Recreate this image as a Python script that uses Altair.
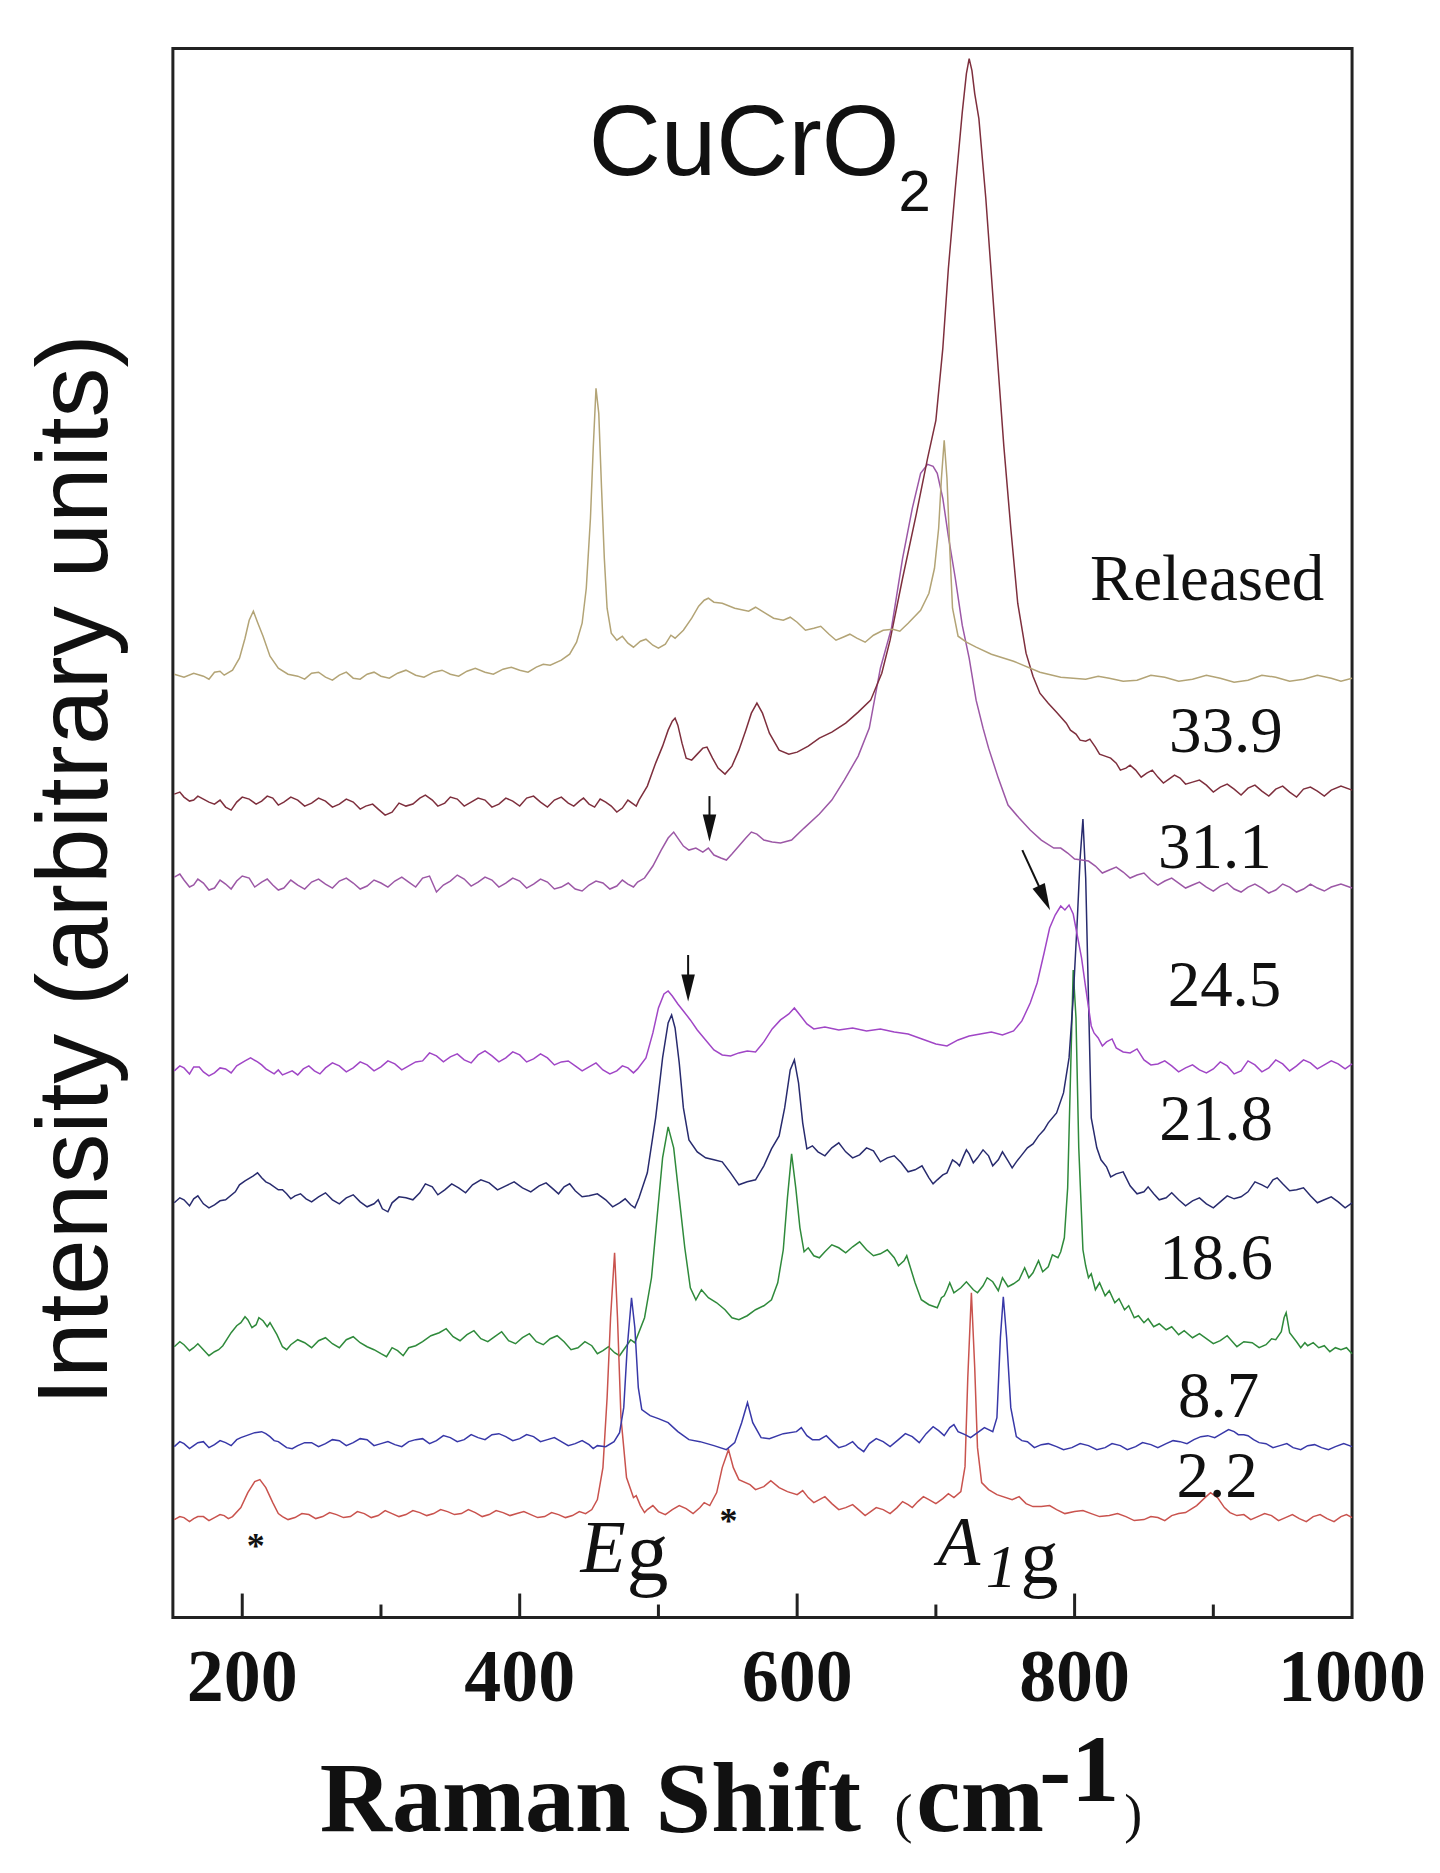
import altair as alt
import pandas as pd

# ---------------- data ----------------
SERIES = ["Released", "33.9", "31.1", "24.5", "21.8", "18.6", "8.7", "2.2"]
COLORS = ["#b3a476", "#7e2f3d", "#9c58a6", "#a046c6", "#282b6e", "#2f8a3b", "#3838a8", "#c9534e"]

RELEASED_X = [151,158,165,172,180,187,193,198,202,205,208,211,215,220,226,233,240,250,260,270,280,290,300,312,325,338,350,362,375,388,400,412,422,430,436,441,445,448,451,453,455,457,459,461,463,466,470,478,487,496,505,512,518,524,529,533,536,540,546,555,565,577,590,600,612,623,633,643,655,669,680,689,695,699,702,704,706,708,710,712,716,722,729,740,756,775,790,808,825,845,865,885,905,925,945,965,985,1000]
RELEASED_Y = [944,941,945,942,946,943,948,960,980,998,1007,996,982,962,950,944,942,945,941,943,940,944,942,945,943,946,944,947,946,949,948,951,953,958,964,976,995,1030,1100,1170,1230,1205,1130,1060,1010,985,978,975,977,973,974,980,988,1000,1012,1018,1020,1016,1015,1010,1007,1005,998,996,990,984,981,980,983,989,995,1008,1025,1050,1090,1140,1178,1140,1070,1010,982,976,971,964,957,946,941,939,940,938,941,939,940,938,941,939,940,940]
RELEASED_NX = [176,184,245,255,265,275,285,295,306,318,331,344,356,368,381,394,406,417,474,482,491,500,509,570,583,595,606,617,628,638,649,662,674,817,835,855,875,895,915,935,955,975,992]
RELEASED_NY = [939,947,939,946,938,946,939,946,940,948,941,948,942,950,944,951,946,954,982,971,979,970,983,1011,1000,1001,988,992,978,984,976,988,987,942,937,943,937,943,936,943,937,943,937]

P339_X = [151,158,165,172,180,188,196,205,214,222,230,240,250,260,270,280,289,298,308,318,328,337,346,355,365,375,385,395,405,415,425,435,443,450,458,466,474,481,486,492,498,503,507,510,512,514,517,520,524,528,532,535,539,543,548,553,558,563,567,571,575,580,587,594,600,608,616,625,635,644,653,661,667,676,686,694,700,705,709,714,719,722,724,726,728,731,736,742,749,754,759,765,770,775,781,787,794,801,808,815,822,830,837,844,852,860,868,876,885,895,905,915,925,935,945,955,965,975,985,1000]
P339_Y = [824,821,818,819,814,811,816,819,817,820,816,818,815,817,814,816,812,809,806,812,820,818,815,819,816,818,814,817,820,816,818,815,817,814,819,812,810,815,818,832,855,872,888,897,900,893,875,860,858,864,870,871,860,850,844,852,868,888,905,915,905,885,868,864,866,872,880,886,895,906,918,945,978,1040,1105,1160,1198,1270,1350,1430,1506,1545,1560,1548,1525,1500,1420,1305,1172,1090,1015,965,942,925,915,906,895,884,877,871,862,855,850,848,845,841,839,840,836,833,831,829,830,827,829,826,829,827,828,828]
P339_NX = [155,162,168,176,184,192,200,210,218,226,235,245,255,265,275,285,294,303,313,323,332,341,350,360,370,380,390,400,410,420,430,439,446,454,462,470,478,484,797,804,811,818,826,833,840,848,856,864,872,880,890,900,910,920,930,940,950,960,970,980,992]
P339_NY = [826,817,822,816,818,808,821,814,822,813,821,812,820,811,819,809,814,803,815,814,823,812,821,812,820,811,820,812,822,811,821,812,820,811,816,806,818,812,888,878,879,864,860,848,853,841,848,835,843,834,838,826,834,823,833,822,832,821,831,822,832]

P311_X = [151,158,165,172,180,188,196,205,214,222,230,240,250,260,270,280,290,300,310,320,330,340,350,360,370,380,390,400,410,420,430,440,450,460,470,478,485,490,496,502,507,511,514,518,522,527,532,536,540,545,549,553,558,563,567,571,576,582,588,596,605,616,625,634,644,652,660,668,676,683,689,694,698,701,705,709,714,719,724,729,734,738,745,752,760,768,776,785,795,805,815,825,835,845,855,865,875,885,895,905,915,925,935,945,955,965,975,985,1000]
P311_Y = [741,738,733,735,730,734,737,740,736,733,730,733,736,734,737,735,732,735,737,736,740,726,737,739,736,738,735,737,734,736,731,729,733,735,732,734,736,740,752,768,780,786,780,772,768,770,766,770,763,760,758,764,772,780,786,784,778,776,775,778,790,804,818,838,862,890,950,990,1060,1110,1145,1154,1152,1145,1120,1082,1040,993,960,918,890,870,840,813,800,788,778,770,765,758,752,748,746,743,738,737,735,733,731,732,729,731,730,728,731,729,730,731,730]
P311_NX = [155,162,168,176,184,192,200,209,218,226,235,245,255,265,275,285,295,305,315,325,335,345,355,365,375,385,395,405,415,425,435,445,455,465,474,482,790,800,810,820,830,840,850,860,870,880,890,900,910,920,930,940,950,960,970,980,992]
P311_NY = [744,731,739,728,738,729,742,731,739,728,738,729,739,730,740,729,738,731,741,731,742,733,743,732,741,731,740,730,739,729,735,727,737,729,738,731,770,759,757,745,751,740,745,733,740,730,736,727,735,726,734,725,734,726,734,727,734]

P245_X = [151,158,165,172,180,188,196,202,206,211,217,223,229,236,244,252,260,270,280,290,300,310,320,330,340,350,360,370,380,390,400,410,420,430,440,450,460,470,478,485,491,496,500,504,507,510,514,518,523,528,534,540,546,552,558,564,570,576,582,588,594,598,602,607,612,620,630,640,650,660,670,680,690,700,708,716,724,732,740,748,756,762,768,773,778,782,786,790,793,796,799,802,805,808,812,817,823,830,840,850,860,870,880,890,900,910,920,930,940,950,960,970,980,990,1000]
P245_Y = [547,550,551,546,545,549,552,557,560,556,549,544,543,547,549,547,550,552,550,553,551,554,552,557,562,561,558,563,562,560,563,559,560,556,552,551,548,547,550,549,560,585,610,624,627,622,614,607,598,588,578,568,563,562,565,567,566,576,589,598,604,610,603,594,589,591,588,590,587,589,586,584,579,574,572,578,582,584,586,583,587,597,615,635,665,690,703,712,708,713,704,682,660,630,592,580,576,570,565,558,554,552,550,548,549,552,547,553,550,554,552,555,553,554,554]
P245_NX = [155,162,169,176,184,192,214,226,240,248,256,265,275,285,295,305,315,325,335,345,355,365,375,385,395,405,415,425,435,445,455,465,474,482,814,820,827,835,845,855,865,875,885,895,905,915,925,935,945,955,965,975,985,995]
P245_NY = [552,544,551,542,550,545,553,548,543,552,544,555,546,556,547,557,548,556,565,556,564,555,567,556,566,556,564,553,557,547,555,544,552,545,585,572,579,566,569,553,557,546,553,545,556,544,557,546,558,547,558,549,557,549]

P218_X = [151,158,165,172,180,188,195,202,208,214,220,226,232,238,246,255,265,275,285,295,301,308,318,328,337,346,356,366,378,390,402,414,424,432,440,450,462,472,480,486,492,498,503,507,509.5,512,515,518,522,528,534,540,546,552,558,564,570,576,581.5,587,591,595,598,601,604,607,615,625,635,645,655,665,675,685,695,701,708,715,720,724,730,738,745,752,758,766,774,781,787,792,796,799,802,804,806,808,810,812,816,823,830,840,850,857,866,875,885,895,905,915,925,935,943,950,960,970,980,990,1000]
P218_Y = [415,418,419,414,413,418,426,437,442,440,434,428,424,422,419,421,418,420,416,414,409,415,420,425,431,428,430,433,435,432,430,432,429,431,427,422,418,415,413,420,445,500,560,595,603,590,555,510,478,466,460,458,456,445,433,436,438,452,469,482,510,548,558,535,495,469,466,470,466,463,467,460,455,448,440,438,445,455,462,464,460,462,458,457,456,470,482,495,505,525,560,620,700,760,799,740,620,500,470,451,444,432,426,424,420,418,417,414,416,419,426,433,438,434,428,422,418,416,415]
P218_NX = [155,162,168,176,184,198,211,217,229,235,242,250,260,270,280,290,298,305,313,323,332,341,351,361,372,384,396,408,419,428,436,445,456,467,476,483,611,620,630,640,650,660,670,680,690,698,705,712,717,722,727,734,741,748,755,762,770,778,819,826,835,845,853,861,870,880,890,900,910,920,930,939,946,955,965,975,985,995]
P218_NY = [420,412,422,410,417,433,445,436,428,419,424,416,425,414,423,411,418,406,421,418,434,423,434,425,438,428,436,426,435,424,434,421,424,411,419,410,472,462,475,460,470,456,462,446,452,434,443,458,452,468,455,468,452,466,450,463,474,488,458,441,446,424,431,418,425,412,420,410,422,421,436,430,440,427,430,415,421,410]

P186_X = [151,158,165,172,180,186,192,199,204,210,215,220,225,229,235,245,255,265,275,285,295,304,312,320,330,342,352,362,372,382,392,402,412,422,432,442,452,460,468.4,476,483,490,495,499,503,507,511,515,519,523,527,531,536,542,548,553,558,564,570,576,581.5,586,590,593,596,599,602,605,612,620,630,640,650,660,670,677,681,685,689.5,695,701,706,710,718,727,734,741,752,760,770,781,788,792.6,795,797,799,801,803,806,810,815,822,829,836,843,850,857,866,875,885,895,905,917,928,938,945,951,952.5,955,960,968,976,984,992,1000]
P186_Y = [271,273,270,268,266,272,285,295,298,293,297,295,283,271,273,275,277,274,278,275,268,261,267,270,276,285,281,283,279,281,277,280,276,279,276,270,272,267,265,270,275,300,340,400,460,491,470,420,370,330,318,328,320,315,308,300,298,302,308,312,318,335,368,420,464,430,390,366,362,366,370,371,368,364,360,357,353,335,318,313,310,322,335,330,328,332,336,331,338,345,351,360,380,430,540,648,600,470,368,340,328,322,315,308,300,295,291,288,283,280,279,277,271,275,273,278,300,305,285,276,272,270,266,268,264]
P186_NX = [155,162,168,176,183,196,202,207,212,218,232,240,250,260,270,280,290,300,308,316,325,336,347,357,367,377,387,397,407,417,427,437,447,456,464,472,480,608,616,625,635,645,655,665,673,679,704,708,713,722,730,737,745,748,756,764,767,774,777,784,790,808,812,818,825,832,839,846,853,861,870,879,890,900,910,922,933,942,949,963,966,972,980,988,996]
P186_NY = [276,267,274,262,268,292,301,290,300,291,268,278,270,280,270,281,271,264,270,262,272,282,289,277,287,276,286,274,284,273,282,268,276,264,271,262,278,370,360,373,365,376,362,368,352,362,320,328,325,336,325,340,327,340,334,350,340,357,346,363,366,352,344,335,327,319,312,302,299,294,291,287,284,274,282,276,270,279,286,270,275,275,272,270,270]

P87_X = [151,158,165,172,180,188,196,203,209,214,220,226,232,240,250,260,270,280,290,300,310,320,330,340,350,360,370,380,390,400,410,420,430,440,450,456,462,468,472,475,477.5,480.6,483,485.5,488,494,500,507,514,522,530,540,549,555,560,564.2,568,574,580,590,599.5,607,616,626,635,644,652,662,673,683,693,702,710,716,721,730,741,744,746.5,748.6,751,754,758,766,776,787,798,810,822,833,844,855,866,876,886,896,906,915,922,929,938,948,957.5,968,978,988,1000]
P87_Y = [171,174,172,176,173,175,178,182,185,186,181,176,170,172,175,174,177,175,178,174,173,176,179,177,180,178,180,183,181,179,181,178,176,174,173,172,171,176,185,210,270,320,290,230,208,202,199,195,186,178,176,172,168,175,195,215,195,180,179,184,186,182,178,175,172,170,174,176,178,181,184,187,190,186,183,185,186,200,280,321,280,210,181,176,173,171,170,172,170,172,171,173,174,176,178,182,184,186,183,178,174,172,170,172,170,171,171]
P87_NX = [155,162,168,176,184,192,199,217,223,229,236,245,255,265,275,285,295,305,315,325,335,345,355,365,375,385,395,405,415,425,435,445,453,603,611,621,630,640,648,657,667,678,688,698,706,713,725,735,762,771,781,792,804,816,827,838,849,860,871,881,891,901,911,918,925,933,943,953,963,973,983,994]
P87_NY = [176,169,175,170,177,172,180,184,177,173,169,175,171,178,172,179,172,176,171,178,174,182,176,183,178,184,177,183,176,180,172,177,169,190,178,182,170,176,166,179,171,184,175,191,182,193,180,190,177,170,174,168,174,168,174,168,175,170,177,174,181,180,188,183,182,175,170,174,168,173,168,174]

P22_X = [151,158,165,172,180,187,193,199,204,209,212.7,217,222,226,229,238,248,258,268,278,288,298,308,318,328,338,348,358,368,378,388,398,408,418,428,438,447.5,452,456,460,463,465.5,468.4,470.5,473,477,482,487,492,500,510,520,530,537,542,546,550.5,554,558,566,576,587,600,608,616,625,635,645,653,662,672,680,687,695,705,713,718,721,723,725.6,728,730,733,738,744,755,765,776,787,800,812,825,837,850,860,870,880,888,894,898,903,908,912,922,932,942,952,962,972,982,992,1000]
P22_Y = [98,100,99,101,100,102,101,110,125,136,138,130,115,104,101,100,103,101,103,101,104,102,104,103,105,104,106,104,105,103,105,104,103,101,103,102,104,108,118,150,220,300,365,300,200,140,120,112,108,106,108,109,110,112,125,150,168,150,138,133,131,130,123,120,118,114,110,107,106,108,110,113,116,118,119,120,126,151,240,325,250,170,135,128,123,118,114,111,108,106,104,102,101,98,100,102,105,112,120,125,120,110,105,103,101,102,100,99,101,99,101,100]
P22_NX = [155,162,168,176,184,190,233,243,253,263,273,283,293,303,313,323,333,343,353,363,373,383,393,403,413,423,433,443,484,490,496,505,515,525,533,570,581,593,604,612,620,630,640,649,657,667,676,683,691,700,709,760,770,782,793,806,818,831,843,855,865,875,917,927,937,947,957,967,977,987,996]
P22_NY = [101,96,101,97,103,99,98,104,99,105,100,106,100,107,101,107,102,108,103,108,101,107,102,106,100,105,100,106,122,105,112,103,112,104,115,128,137,126,127,115,121,108,113,102,110,104,116,110,121,114,124,121,111,112,104,107,101,104,97,101,97,104,102,98,104,97,103,96,103,96,103]

SERIES_X = [RELEASED_X + RELEASED_NX, P339_X + P339_NX, P311_X + P311_NX, P245_X + P245_NX,
            P218_X + P218_NX, P186_X + P186_NX, P87_X + P87_NX, P22_X + P22_NX]
SERIES_Y = [RELEASED_Y + RELEASED_NY, P339_Y + P339_NY, P311_Y + P311_NY, P245_Y + P245_NY,
            P218_Y + P218_NY, P186_Y + P186_NY, P87_Y + P87_NY, P22_Y + P22_NY]

# pressure labels (right side)
LABELS = ["Released", "33.9", "31.1", "24.5", "21.8", "18.6", "8.7", "2.2"]
LABEL_X = [980, 950, 942, 949, 943, 943, 933, 932]
LABEL_Y = [1018, 866, 750, 612, 478, 339, 201, 121]

# axis ticks
X_TICK_LABELS = [200, 400, 600, 800, 1000]
MAJOR_TICKS = [200, 400, 600, 800]
MINOR_TICKS = [300, 500, 700, 900]

# arrows: shaft start (x1,y1) -> head centre (x2,y2)
ARROW_X1 = [536.8, 521.4, 762.3]
ARROW_Y1 = [822, 663, 768]
ARROW_X2 = [536.8, 521.4, 778.2]
ARROW_Y2 = [790, 630, 720]
ARROW_ANGLE = [0, 0, 335]

# asterisks
STAR_X = [209.8, 550.5]
STAR_Y = [60, 85]

# ---------------- chart ----------------
rows = []
for name, xs, ys in zip(SERIES, SERIES_X, SERIES_Y):
    assert len(xs) == len(ys), name
    for xv, yv in zip(xs, ys):
        rows.append({"series": name, "shift": xv, "intensity": yv})
spectra = pd.DataFrame(rows).sort_values(["series", "shift"])

x_scale = alt.Scale(domain=[150, 1000], nice=False, zero=False)
y_scale = alt.Scale(domain=[0, 1570], nice=False, zero=False)
INK = "#111111"


def X():
    return alt.X("shift:Q", scale=x_scale, axis=None)


def Y():
    return alt.Y("intensity:Q", scale=y_scale, axis=None)


lines = alt.Chart(spectra).mark_line(strokeWidth=1.5).encode(
    x=X(), y=Y(),
    color=alt.Color("series:N", scale=alt.Scale(domain=SERIES, range=COLORS), legend=None),
)

major = alt.Chart(pd.DataFrame({"shift": MAJOR_TICKS})).mark_rule(color="#222", strokeWidth=3).encode(
    x=X(), y=alt.value(1570), y2=alt.value(1546))
minor = alt.Chart(pd.DataFrame({"shift": MINOR_TICKS})).mark_rule(color="#222", strokeWidth=3).encode(
    x=X(), y=alt.value(1570), y2=alt.value(1557))

tick_labels = alt.Chart(pd.DataFrame({"shift": X_TICK_LABELS})).mark_text(
    font="Liberation Serif", fontSize=74, fontWeight="bold", align="center",
    baseline="alphabetic", color=INK).encode(
    x=X(), y=alt.value(1654), text=alt.Text("shift:Q", format="d"))


def data_text(texts, xs, ys, size, style="normal", weight="normal", font="Liberation Serif", align="left"):
    df = pd.DataFrame({"label": texts, "shift": xs, "intensity": ys})
    return alt.Chart(df).mark_text(font=font, fontSize=size, fontStyle=style, fontWeight=weight,
                                   align=align, baseline="alphabetic", color=INK).encode(
        x=X(), y=Y(), text="label:N")


def pix_text(text, x, y, size, weight="normal", font="Liberation Serif", angle=0, align="left"):
    return alt.Chart(pd.DataFrame({"label": [text]})).mark_text(
        font=font, fontSize=size, fontWeight=weight, align=align, baseline="alphabetic",
        angle=angle, color=INK).encode(x=alt.value(x), y=alt.value(y), text="label:N")


pressure = data_text(LABELS, LABEL_X, LABEL_Y, 65, align="right")

title_main = data_text(["CuCrO"], [449.7], [1444], 100, font="Liberation Sans")
title_sub = data_text(["2"], [673.0], [1408], 58, font="Liberation Sans")

eg_e = data_text(["E"], [443.9], [46], 74, style="italic")
eg_g = data_text(["g"], [477.0], [38], 84)
a_a = data_text(["A"], [701.1], [53], 70, style="italic")
a_1 = data_text(["1"], [736.0], [31], 62, style="italic")
a_g = data_text(["g"], [761.0], [35], 76)

stars = data_text(["*", "*"], STAR_X, STAR_Y, 36, weight="bold", align="center")

arrow_df = pd.DataFrame({"shift": ARROW_X1, "intensity": ARROW_Y1,
                         "x2": ARROW_X2, "y2": ARROW_Y2, "ang": ARROW_ANGLE})
shafts = alt.Chart(arrow_df).mark_rule(color=INK, strokeWidth=2).encode(
    x=X(), y=Y(), x2="x2:Q", y2="y2:Q")
heads = alt.Chart(arrow_df).mark_point(
    shape="M -0.5 -1 L 0.5 -1 L 0 1 Z", filled=True, size=729, color=INK, opacity=1, strokeWidth=0
).encode(x=alt.X("x2:Q", scale=x_scale, axis=None), y=alt.Y("y2:Q", scale=y_scale, axis=None),
         angle=alt.Angle("ang:Q", scale=None))

y_title = pix_text("Intensity (arbitrary units)", -66, 822, 100, font="Liberation Sans",
                   angle=270, align="center")
x_t1 = pix_text("Raman Shift", 147, 1784, 100, weight="bold")
x_t2 = pix_text("(", 722, 1785, 54)
x_t3 = pix_text("cm", 744, 1784, 100, weight="bold")
x_t4 = pix_text("-1", 867, 1754, 96, weight="bold")
x_t5 = pix_text(")", 952, 1785, 54)

chart = alt.layer(
    lines, major, minor, tick_labels, pressure, title_main, title_sub, eg_e, eg_g, a_a, a_1, a_g,
    stars, shafts, heads, y_title, x_t1, x_t2, x_t3, x_t4, x_t5
).properties(
    width=1180, height=1570,
    autosize=alt.AutoSizeParams(type="none"),
    padding={"left": 165, "top": 40, "right": 80, "bottom": 240},
    background="white",
).configure_view(stroke="#222222", strokeWidth=3)

chart.save("out.html", embed_options={"renderer": "svg", "actions": False})
